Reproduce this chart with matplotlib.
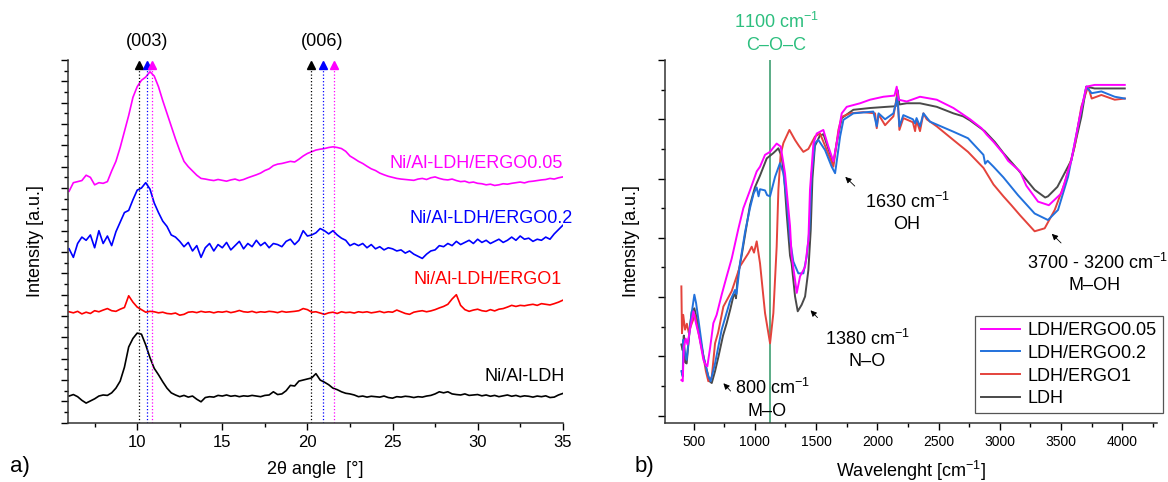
import numpy as np
import matplotlib
matplotlib.use('Agg')
import matplotlib.pyplot as plt
from matplotlib.ticker import MultipleLocator, NullFormatter

plt.rcParams['font.family'] = ['Liberation Sans', 'DejaVu Sans']
plt.rcParams['mathtext.fontset'] = 'custom'
plt.rcParams['mathtext.rm'] = 'Liberation Sans'
plt.rcParams['mathtext.it'] = 'Liberation Sans:italic'
plt.rcParams['mathtext.bf'] = 'Liberation Sans:bold'

# ---------------- a) XRD data ----------------
two_theta = [6.0, 6.25, 6.5, 6.75, 7.0, 7.25, 7.5, 7.75, 8.0, 8.25, 8.5, 8.75,
             9.0, 9.25, 9.5, 9.75, 10.0, 10.25, 10.5, 10.75, 11.0, 11.25, 11.5, 11.75,
             12.0, 12.25, 12.5, 12.75, 13.0, 13.25, 13.5, 13.75, 14.0, 14.25, 14.5, 14.75,
             15.0, 15.25, 15.5, 15.75, 16.0, 16.25, 16.5, 16.75, 17.0, 17.25, 17.5, 17.75,
             18.0, 18.25, 18.5, 18.75, 19.0, 19.25, 19.5, 19.75, 20.0, 20.25, 20.5, 20.75,
             21.0, 21.25, 21.5, 21.75, 22.0, 22.25, 22.5, 22.75, 23.0, 23.25, 23.5, 23.75,
             24.0, 24.25, 24.5, 24.75, 25.0, 25.25, 25.5, 25.75, 26.0, 26.25, 26.5, 26.75,
             27.0, 27.25, 27.5, 27.75, 28.0, 28.25, 28.5, 28.75, 29.0, 29.25, 29.5, 29.75,
             30.0, 30.25, 30.5, 30.75, 31.0, 31.25, 31.5, 31.75, 32.0, 32.25, 32.5, 32.75,
             33.0, 33.25, 33.5, 33.75, 34.0, 34.25, 34.5, 34.75, 35.0]

xrd_ldh = [1.25, 1.32, 1.22, 1.05, 0.92, 1.02, 1.12, 1.25, 1.30, 1.28, 1.40, 1.62,
           1.95, 2.60, 3.55, 3.95, 4.20, 4.15, 3.65, 3.05, 2.55, 2.25, 1.92, 1.62,
           1.40, 1.30, 1.22, 1.28, 1.20, 1.25, 1.10, 0.98, 1.18, 1.22, 1.20, 1.28,
           1.25, 1.30, 1.24, 1.27, 1.22, 1.26, 1.24, 1.28, 1.25, 1.22, 1.28, 1.30,
           1.45, 1.32, 1.35, 1.50, 1.75, 1.72, 1.95, 2.00, 2.05, 2.10, 2.30, 2.00,
           1.90, 1.78, 1.62, 1.55, 1.45, 1.38, 1.35, 1.30, 1.22, 1.25, 1.20, 1.24,
           1.22, 1.20, 1.25, 1.18, 1.15, 1.22, 1.20, 1.24, 1.22, 1.18, 1.22, 1.20,
           1.25, 1.28, 1.35, 1.45, 1.40, 1.45, 1.35, 1.32, 1.30, 1.35, 1.28, 1.30,
           1.32, 1.26, 1.30, 1.24, 1.28, 1.22, 1.26, 1.30, 1.24, 1.28, 1.22, 1.26,
           1.24, 1.20, 1.25, 1.22, 1.26, 1.18, 1.20, 1.30, 1.37]

xrd_ergo1 = [5.20, 5.15, 5.22, 5.10, 5.18, 5.12, 5.25, 5.20, 5.28, 5.35, 5.25, 5.22,
             5.32, 5.40, 5.95, 5.65, 5.42, 5.30, 5.18, 5.22, 5.20, 5.15, 5.18, 5.12,
             5.10, 5.14, 5.04, 5.08, 5.18, 5.20, 5.16, 5.22, 5.18, 5.20, 5.15, 5.20,
             5.18, 5.22, 5.16, 5.20, 5.26, 5.20, 5.18, 5.22, 5.16, 5.20, 5.18, 5.22,
             5.20, 5.16, 5.22, 5.18, 5.20, 5.22, 5.25, 5.35, 5.30, 5.18, 5.20, 5.14,
             5.08, 5.15, 5.18, 5.12, 5.20, 5.16, 5.18, 5.14, 5.20, 5.17, 5.20, 5.15,
             5.18, 5.22, 5.16, 5.20, 5.18, 5.28, 5.20, 5.12, 5.08, 5.18, 5.22, 5.25,
             5.20, 5.24, 5.30, 5.38, 5.45, 5.55, 5.80, 6.00, 5.50, 5.30, 5.22, 5.28,
             5.32, 5.25, 5.22, 5.30, 5.24, 5.32, 5.35, 5.42, 5.50, 5.45, 5.50, 5.48,
             5.52, 5.55, 5.50, 5.58, 5.55, 5.52, 5.58, 5.65, 5.74]

xrd_ergo02 = [8.15, 7.75, 8.40, 8.70, 8.55, 8.80, 8.20, 9.00, 8.40, 8.75, 8.30, 8.95,
              9.40, 9.85, 9.95, 10.45, 10.90, 11.00, 11.25, 10.95, 10.30, 9.85, 9.45, 9.20,
              8.80, 8.70, 8.50, 8.25, 8.45, 8.05, 8.30, 7.75, 8.20, 8.40, 8.05, 8.35,
              8.20, 8.45, 8.10, 8.30, 8.50, 8.15, 8.40, 8.25, 8.55, 8.30, 8.45, 8.20,
              8.40, 8.35, 8.25, 8.50, 8.60, 8.35, 8.55, 9.00, 8.75, 8.80, 8.90, 9.10,
              9.00, 8.85, 9.00, 8.80, 8.65, 8.55, 8.30, 8.40, 8.30, 8.40, 8.20, 8.35,
              8.15, 8.25, 8.10, 8.20, 8.15, 8.05, 8.10, 7.95, 8.05, 7.90, 7.80, 7.70,
              7.90, 8.05, 8.10, 8.30, 8.25, 8.40, 8.30, 8.50, 8.35, 8.45, 8.55, 8.40,
              8.60, 8.45, 8.55, 8.40, 8.50, 8.60, 8.45, 8.55, 8.70, 8.55, 8.75, 8.60,
              8.65, 8.50, 8.60, 8.55, 8.70, 8.60, 8.85, 9.05, 9.25]

xrd_ergo005 = [10.85, 11.25, 11.30, 11.35, 11.60, 11.50, 11.15, 11.25, 11.22, 11.30, 11.80, 12.25,
               12.90, 13.65, 14.40, 15.25, 15.75, 16.05, 16.20, 16.45, 16.25, 15.75, 15.10, 14.50,
               13.90, 13.30, 12.75, 12.25, 12.00, 11.80, 11.60, 11.45, 11.42, 11.38, 11.35, 11.40,
               11.36, 11.32, 11.38, 11.42, 11.35, 11.40, 11.48, 11.55, 11.62, 11.70, 11.82, 11.90,
               12.05, 12.12, 12.15, 12.20, 12.25, 12.22, 12.35, 12.50, 12.62, 12.70, 12.78, 12.82,
               12.85, 12.90, 12.93, 12.90, 12.85, 12.72, 12.50, 12.38, 12.25, 12.15, 12.02, 11.90,
               11.82, 11.70, 11.62, 11.55, 11.50, 11.45, 11.42, 11.40, 11.38, 11.36, 11.42, 11.45,
               11.40, 11.48, 11.52, 11.45, 11.40, 11.38, 11.42, 11.35, 11.30, 11.32, 11.25, 11.28,
               11.22, 11.20, 11.15, 11.18, 11.12, 11.15, 11.20, 11.18, 11.22, 11.25, 11.28, 11.24,
               11.30, 11.32, 11.35, 11.38, 11.40, 11.45, 11.42, 11.48, 11.52]

peaks_003 = [10.08, 10.6, 10.85]
peaks_006 = [20.24, 20.9, 21.55]

# ---------------- b) FTIR data ----------------
wn_ergo005 = [400, 411, 420, 435, 450, 470, 498, 520, 545, 580, 600, 612, 635, 661, 688, 729,
              770, 811, 865, 906, 960, 1015, 1042, 1083, 1124, 1150, 1178, 1211, 1246, 1287,
              1300, 1328, 1342, 1369, 1410, 1437, 1450, 1478, 1505, 1559, 1600, 1641, 1668,
              1709, 1750, 1859, 1940, 2049, 2140, 2158, 2174, 2240, 2348, 2485, 2621, 2700,
              2757, 2850, 2893, 2948, 3029, 3067, 3165, 3216, 3312, 3400, 3502, 3584, 3652,
              3706, 3774, 3900, 4020]
ir_ergo005 = [1.60, 1.58, 2.15, 2.30, 2.20, 2.45, 2.76, 2.55, 2.34, 1.94, 1.85, 1.83, 2.15, 2.56, 2.70, 3.04,
              3.35, 3.65, 4.15, 4.50, 4.80, 5.12, 5.20, 5.40, 5.45, 5.52, 5.59, 5.54, 5.09, 4.20,
              3.70, 3.29, 3.07, 3.35, 3.51, 3.96, 4.81, 5.59, 5.76, 5.82, 5.54, 5.29, 5.60,
              6.10, 6.21, 6.27, 6.33, 6.38, 6.40, 6.55, 6.33, 6.30, 6.38, 6.33, 6.19, 6.08,
              6.00, 5.85, 5.74, 5.62, 5.42, 5.30, 5.12, 4.88, 4.61, 4.55, 4.75, 5.31, 6.04,
              6.55, 6.58, 6.58, 6.58]

wn_ldh = [400, 411, 420, 430, 443, 470, 484, 506, 530, 552, 580, 607, 630, 648, 675, 702,
          740, 770, 800, 824, 838, 846, 860, 892, 920, 960, 1000, 1042, 1097, 1151, 1192,
          1219, 1240, 1260, 1287, 1300, 1328, 1350, 1382, 1410, 1437, 1456, 1470, 1490,
          1530, 1560, 1600, 1641, 1668, 1709, 1804, 1940, 2076, 2150, 2166, 2180, 2240,
          2348, 2485, 2621, 2700, 2757, 2876, 2958, 3029, 3148, 3284, 3370, 3393, 3470,
          3584, 3665, 3706, 3774, 3900, 4020]
ir_ldh = [2.20, 2.10, 2.35, 1.90, 1.88, 2.50, 2.75, 2.81, 2.60, 2.28, 2.00, 1.77, 1.58, 1.55, 1.75, 1.99,
          2.35, 2.56, 2.80, 3.01, 3.05, 2.98, 3.35, 3.70, 4.05, 4.55, 4.85, 5.05, 5.34, 5.43, 5.51,
          5.37, 5.00, 4.40, 3.70, 3.57, 3.01, 2.76, 2.87, 3.01, 3.46, 4.13, 5.00, 5.55,
          5.72, 5.75, 5.50, 5.26, 5.60, 6.02, 6.16, 6.19, 6.21, 6.22, 6.49, 6.25, 6.27,
          6.27, 6.21, 6.10, 6.05, 5.98, 5.80, 5.62, 5.43, 5.15, 4.81, 4.68, 4.70, 4.86,
          5.31, 6.04, 6.55, 6.52, 6.52, 6.52]

wn_ergo02 = [400, 411, 416, 425, 443, 470, 484, 506, 520, 539, 580, 620, 639, 675, 729, 797,
             838, 850, 879, 920, 960, 990, 1015, 1030, 1042, 1083, 1100, 1124, 1165, 1205,
             1233, 1260, 1287, 1314, 1355, 1396, 1423, 1445, 1464, 1491, 1519, 1573, 1627,
             1655, 1696, 1723, 1804, 1967, 1995, 2010, 2063, 2131, 2164, 2180, 2212, 2290,
             2308, 2320, 2348, 2376, 2430, 2621, 2740, 2866, 2880, 2900, 2948, 3029, 3148,
             3284, 3393, 3475, 3557, 3638, 3706, 3750, 3829, 3938, 4020]
ir_ergo02 = [1.75, 1.66, 2.28, 2.10, 1.94, 2.50, 2.73, 3.04, 2.90, 2.62, 2.00, 1.66, 1.58, 1.88, 2.45, 2.93,
             3.12, 3.05, 3.57, 4.10, 4.50, 4.75, 4.85, 4.70, 4.82, 4.80, 4.72, 4.70, 5.03, 5.26,
             5.09, 4.64, 3.97, 3.60, 3.40, 3.40, 3.68, 4.13, 5.09, 5.60, 5.65, 5.48, 5.20,
             5.09, 5.71, 5.99, 6.10, 6.13, 5.88, 6.10, 6.00, 6.10, 6.38, 5.88, 6.07, 6.00,
             5.93, 6.02, 5.88, 6.10, 5.96, 5.79, 5.68, 5.40, 5.25, 5.30, 5.20, 5.02, 4.72,
             4.41, 4.30, 4.47, 5.03, 5.88, 6.55, 6.44, 6.47, 6.38, 6.35]

wn_ergo1 = [400, 405, 415, 430, 445, 460, 484, 511, 540, 566, 600, 620, 648, 675, 700, 743,
            811, 879, 947, 974, 993, 1015, 1042, 1083, 1124, 1151, 1178, 1192, 1210, 1233,
            1282, 1328, 1360, 1396, 1437, 1491, 1532, 1587, 1641, 1682, 1709, 1777, 1886,
            1981, 1995, 2010, 2063, 2131, 2164, 2180, 2212, 2290, 2308, 2320, 2348, 2376,
            2403, 2485, 2621, 2740, 2866, 2948, 3029, 3094, 3165, 3284, 3366, 3448, 3529,
            3611, 3665, 3720, 3750, 3829, 3938, 4020]
ir_ergo1 = [3.18, 2.39, 2.70, 2.45, 2.55, 2.40, 2.55, 2.70, 2.40, 2.17, 1.75, 1.58, 1.65, 2.22, 2.40, 2.84,
            3.10, 3.52, 3.74, 3.85, 3.75, 3.94, 3.57, 2.73, 2.22, 2.73, 3.85, 4.81, 5.40, 5.60,
            5.82, 5.65, 5.55, 5.45, 5.50, 5.71, 5.76, 5.48, 5.20, 5.82, 6.04, 6.10, 6.12,
            6.10, 5.85, 6.08, 5.90, 6.05, 6.44, 5.82, 6.02, 5.95, 5.80, 5.98, 5.80, 6.10,
            6.00, 5.88, 5.65, 5.45, 5.18, 4.90, 4.70, 4.55, 4.38, 4.11, 4.16, 4.47, 4.92,
            5.54, 6.21, 6.55, 6.35, 6.41, 6.33, 6.35]

fig = plt.figure(figsize=(11.68, 4.82), dpi=100)

# ---- panel a ----
ax1 = fig.add_axes([0.058, 0.123, 0.4238, 0.7525])
ax1.plot(two_theta, xrd_ldh, color='black', lw=1.2)
ax1.plot(two_theta, xrd_ergo1, color='#ff0000', lw=1.2)
ax1.plot(two_theta, xrd_ergo02, color='#0000ff', lw=1.2)
ax1.plot(two_theta, xrd_ergo005, color='#ff00ff', lw=1.2)

mark_cols = ['black', '#0000ff', '#ff00ff']
for peaks in [peaks_003, peaks_006]:
	for p, c in zip(peaks, mark_cols):
		ax1.plot([p, p], [0, 16.55], ls=':', color=c, lw=0.9)
		ax1.plot(p, 16.78, marker='^', color=c, ms=6, clip_on=False)
ax1.text(10.57, 17.86, '(003)', ha='center', va='center', fontsize=13, clip_on=False)
ax1.text(20.87, 17.86, '(006)', ha='center', va='center', fontsize=13, clip_on=False)

ax1.text(35.0, 12.16, 'Ni/Al-LDH/ERGO0.05', ha='right', va='center', color='#ff00ff', fontsize=13)
ax1.text(35.58, 9.58, 'Ni/Al-LDH/ERGO0.2', ha='right', va='center', color='#0000ff', fontsize=13)
ax1.text(34.93, 6.69, 'Ni/Al-LDH/ERGO1', ha='right', va='center', color='#ff0000', fontsize=13)
ax1.text(35.09, 2.16, 'Ni/Al-LDH', ha='right', va='center', color='black', fontsize=13)

ax1.set_xlim(5.92, 35)
ax1.set_ylim(0, 17)
ax1.xaxis.set_major_locator(MultipleLocator(5))
ax1.xaxis.set_minor_locator(MultipleLocator(2.5))
ax1.yaxis.set_major_locator(MultipleLocator(1))
ax1.yaxis.set_minor_locator(MultipleLocator(0.5))
ax1.yaxis.set_major_formatter(NullFormatter())
ax1.tick_params(which='major', direction='out', length=5, width=1, labelsize=12)
ax1.tick_params(which='minor', direction='out', length=3, width=1)
ax1.set_xlabel('2θ angle  [°]', fontsize=13)
ax1.set_ylabel('Intensity [a.u.]', fontsize=13)
ax1.xaxis.set_label_coords(0.5, -0.105)
ax1.yaxis.set_label_coords(-0.048, 0.5)
for s in ['top', 'right']:
	ax1.spines[s].set_visible(False)
for s in ['left', 'bottom']:
	ax1.spines[s].set_linewidth(1.1)
	ax1.spines[s].set_color('#333333')

# ---- panel b ----
ax2 = fig.add_axes([0.569, 0.123, 0.422, 0.7525])
ax2.axvline(1125, color='#3e9e72', lw=1.2)
l4, = ax2.plot(wn_ldh, ir_ldh, color='#4a4a4a', lw=1.4, label='LDH')
l3, = ax2.plot(wn_ergo1, ir_ergo1, color='#e4433c', lw=1.4, label='LDH/ERGO1')
l2, = ax2.plot(wn_ergo02, ir_ergo02, color='#2271dc', lw=1.4, label='LDH/ERGO0.2')
l1, = ax2.plot(wn_ergo005, ir_ergo005, color='#ff00ff', lw=1.4, label='LDH/ERGO0.05')

ax2.set_xlim(263, 4287)
ax2.set_ylim(0.88, 7)
ax2.xaxis.set_major_locator(MultipleLocator(500))
ax2.xaxis.set_minor_locator(MultipleLocator(250))
ax2.yaxis.set_major_locator(MultipleLocator(1))
ax2.yaxis.set_minor_locator(MultipleLocator(0.5))
ax2.yaxis.set_major_formatter(NullFormatter())
ax2.tick_params(which='major', direction='out', length=5, width=1, labelsize=10)
ax2.tick_params(which='minor', direction='out', length=3, width=1)
ax2.set_xlabel('Wavelenght [cm$^{-1}$]', fontsize=13)
ax2.set_ylabel('Intensity [a.u.]', fontsize=13)
ax2.xaxis.set_label_coords(0.5, -0.10)
ax2.yaxis.set_label_coords(-0.05, 0.5)
for s in ['top', 'right']:
	ax2.spines[s].set_visible(False)
for s in ['left', 'bottom']:
	ax2.spines[s].set_linewidth(1.1)
	ax2.spines[s].set_color('#333333')

# band annotations
green = '#2dbf7f'
ax2.text(1173, 7.65, '1100 cm$^{-1}$', ha='center', va='center', color=green, fontsize=13, clip_on=False)
ax2.text(1173, 7.25, 'C–O–C', ha='center', va='center', color=green, fontsize=13, clip_on=False)

notes = [
	('1630 cm$^{-1}$', 'OH', (2247, 4.61), (2240, 4.22), (1832, 4.84), (1722, 5.06)),
	('1380 cm$^{-1}$', 'N–O', (1920, 2.30), (1913, 1.91), (1527, 2.62), (1439, 2.81)),
	('800 cm$^{-1}$', 'M–O', (1143, 1.46), (1098, 1.07), (817, 1.38), (728, 1.58)),
	('3700 - 3200 cm$^{-1}$', 'M–OH', (3794, 3.57), (3777, 3.19), (3516, 3.88), (3408, 4.10)),
]
for top, bot, p1, p2, tail, tip in notes:
	ax2.text(p1[0], p1[1], top, ha='center', va='center', fontsize=13)
	ax2.text(p2[0], p2[1], bot, ha='center', va='center', fontsize=13)
	ax2.annotate('', xy=tip, xytext=tail,
		arrowprops=dict(arrowstyle='-|>', color='black', lw=0.6, mutation_scale=9))

leg = ax2.legend(handles=[l1, l2, l3, l4], loc='upper left', bbox_to_anchor=(0.629, 0.294),
	borderaxespad=0, fontsize=13, fancybox=False, framealpha=1, edgecolor='#555555',
	handlelength=2.2, handletextpad=0.4, labelspacing=0.32, borderpad=0.33)
leg.get_frame().set_linewidth(0.9)

fig.text(19.5 / 1168, 1 - 466.7 / 482, 'a)', fontsize=16, ha='center', va='center')
fig.text(644 / 1168, 1 - 466.7 / 482, 'b)', fontsize=16, ha='center', va='center')

plt.savefig('out.png', dpi=100)
plt.close(fig)
